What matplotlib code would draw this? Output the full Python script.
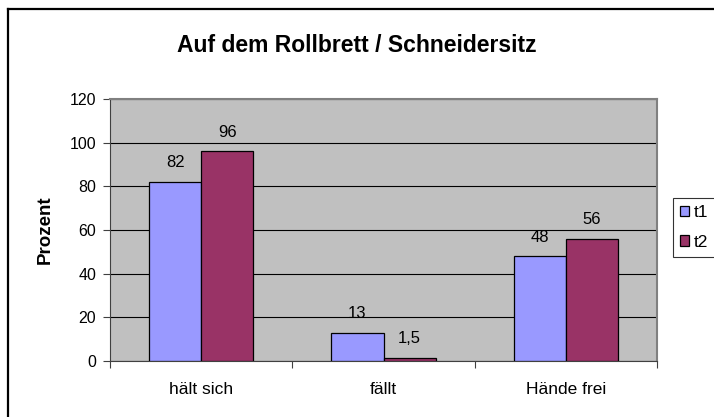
import matplotlib
matplotlib.use("Agg")
import matplotlib.pyplot as plt
from matplotlib.lines import Line2D
import numpy as np

plt.rcParams['font.family'] = ['Liberation Sans', 'DejaVu Sans']

categories = ["hält sich", "fällt", "Hände frei"]
t1 = [82, 13, 48]
t2 = [96, 1.5, 56]
t1_labels = ["82", "13", "48"]
t2_labels = ["96", "1,5", "56"]
series_names = ["t1", "t2"]
yticks = [0, 20, 40, 60, 80, 100, 120]

fig = plt.figure(figsize=(7.14, 4.17), dpi=100)
# outer frame (top and left visible only)
fx, fy = 7.5/714, (417-8.5)/417
fig.add_artist(Line2D([fx, 1.0], [fy, fy], transform=fig.transFigure, color='black', linewidth=1.6))
fig.add_artist(Line2D([fx, fx], [0, fy], transform=fig.transFigure, color='black', linewidth=1.6))

ax = fig.add_axes([110/714, (417-361)/417, (657-110)/714, (361-99)/417])
ax.set_facecolor('#C0C0C0')

x = np.arange(len(categories))
w = 1/3.5
b1 = ax.bar(x - w/2, t1, w, color='#9999FF', edgecolor='black', linewidth=0.9, zorder=3)
b2 = ax.bar(x + w/2, t2, w, color='#993366', edgecolor='black', linewidth=0.9, zorder=3)

for bars, labs in ((b1, t1_labels), (b2, t2_labels)):
    for rect, lab in zip(bars, labs):
        ax.annotate(lab, (rect.get_x() + rect.get_width()/2, rect.get_height()),
                    xytext=(0, 10.5), textcoords='offset points',
                    ha='center', va='baseline', fontsize=12)

ax.set_xlim(-0.5, 2.5)
ax.set_ylim(0, 120)
ax.set_yticks(yticks)
ax.set_yticklabels([str(v) for v in yticks], fontsize=11.5)
ax.yaxis.grid(True, color='black', linewidth=0.8, zorder=1)
ax.set_axisbelow(True)

ax.set_xticks([-0.5, 0.5, 1.5, 2.5])
ax.set_xticklabels([])
ax.set_xticks(x, minor=True)
ax.set_xticklabels(categories, minor=True, fontsize=12.5)
ax.tick_params(axis='x', which='minor', length=0, pad=15)
ax.tick_params(axis='x', which='major', direction='out', length=5, color='#404040')
ax.tick_params(axis='y', direction='out', length=5, color='#404040', pad=5)

for s in ['top', 'right']:
    ax.spines[s].set_color('#808080')
    ax.spines[s].set_linewidth(1.5)
ax.spines['left'].set_color('#404040')
ax.spines['bottom'].set_color('#404040')

ax.set_ylabel('Prozent', fontsize=13.5, fontweight='bold', labelpad=11)

fig.text(0.5, (417-45)/417, 'Auf dem Rollbrett / Schneidersitz', ha='center', va='center',
         fontsize=16.5, fontweight='bold')

leg = fig.legend([b1, b2], series_names, loc='upper left',
                 bbox_to_anchor=(673/714, (417-198)/417), frameon=True, fancybox=False,
                 fontsize=12.5, handlelength=0.55, handleheight=0.55, handletextpad=0.25,
                 borderpad=0.4, labelspacing=0.85, borderaxespad=0)
leg.get_frame().set_edgecolor('black')
leg.get_frame().set_linewidth(0.8)

fig.savefig('out.png', dpi=100)
